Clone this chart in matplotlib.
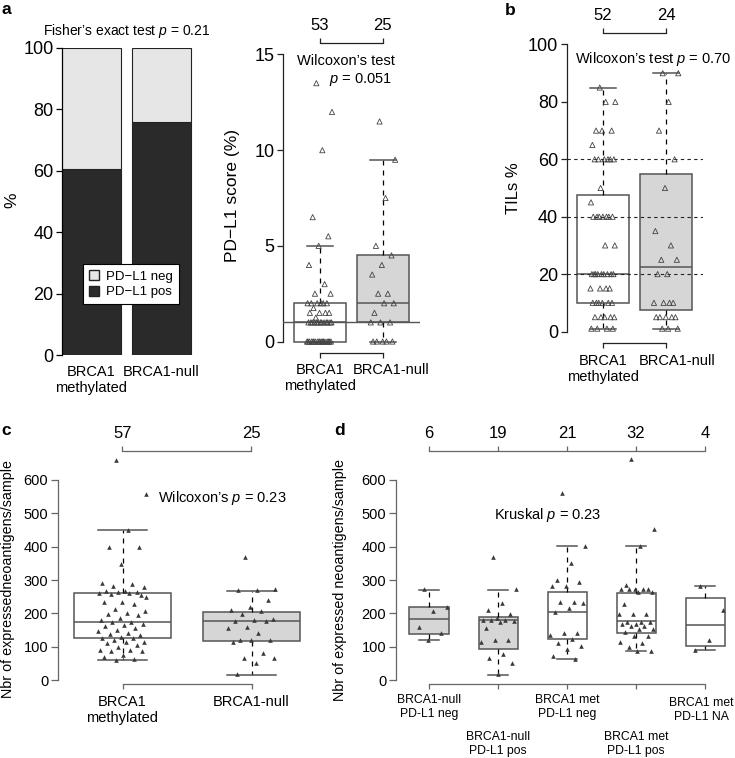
import numpy as np
import matplotlib
matplotlib.use('Agg')
import matplotlib.pyplot as plt
from matplotlib.patches import Patch
from matplotlib.transforms import blended_transform_factory

plt.rcParams['font.family'] = ['Liberation Sans', 'DejaVu Sans']
plt.rcParams['mathtext.fontset'] = 'custom'
plt.rcParams['mathtext.rm'] = 'Liberation Sans'
plt.rcParams['mathtext.it'] = 'Liberation Sans:italic'

# ---- data -------------------------------------------------------------
groups2 = ['BRCA1\nmethylated', 'BRCA1-null']

# a: PD-L1 status (%)
pdl1_pos_pct = [60.5, 76.0]
pdl1_neg_pct = [39.5, 24.0]

# a: PD-L1 score (%)
pdl1_meth = [13.5, 12, 10, 6.5, 5.5, 5, 4, 3, 2.5, 2.5, 2, 2, 2, 2, 2, 2, 1.75,
             1.5, 1.5, 1.5, 1.5, 1.25, 1, 1, 1, 1, 1, 1, 1, 1, 1, 1, 1, 1, 1,
             0, 0, 0, 0, 0, 0, 0, 0, 0, 0, 0, 0, 0, 0, 0, 0, 0, 0]
pdl1_null = [11.5, 9.5, 7.5, 5, 4.5, 4, 3.5, 2.5, 2.5, 2, 2, 1.5, 1, 1, 1,
             0, 0, 0, 0, 0]
pdl1_counts = ['53', '25']
pdl1_lo = [0, 0]
pdl1_q1 = [0, 1]
pdl1_med = [1, 2]
pdl1_q3 = [2, 4.5]
pdl1_hi = [5, 9.5]

# b: TILs %
tils_meth = [85, 80, 80, 70, 70, 70, 65, 60, 60, 60, 60, 60, 60, 50, 45,
             40, 40, 40, 40, 40, 40, 40, 30, 30, 20, 20, 20, 20, 20, 20, 20, 20, 20,
             15, 15, 15, 15, 10, 10, 10, 10, 10, 10, 5, 5, 5, 5, 5, 1, 1, 1, 1]
tils_null = [90, 90, 80, 70, 60, 50, 35, 30, 25, 25, 20, 20, 10, 10, 10, 10,
             5, 5, 5, 5, 5, 1, 1, 1]
tils_counts = ['52', '24']
tils_lo = [1, 1]
tils_q1 = [10, 7.5]
tils_med = [20, 22.5]
tils_q3 = [47.5, 55]
tils_hi = [85, 90]

# c: expressed neoantigens per sample
neo_meth = [660, 558, 450, 400, 400, 348, 290, 287, 283, 280, 268, 266, 265, 264,
            262, 260, 258, 255, 235, 233, 228, 212, 208, 202, 198, 195, 188, 180,
            176, 175, 170, 166, 162, 158, 152, 148, 142, 140, 136, 130, 128, 126,
            120, 116, 114, 112, 105, 100, 92, 90, 88, 87, 75, 70, 64, 62, 250]
neo_null = [368, 273, 270, 270, 241, 218, 211, 206, 198, 183, 181, 178, 178,
            160, 158, 143, 121, 121, 120, 115, 81, 68, 68, 53, 18]
neo_counts = ['57', '25']
neo_lo = [62, 15]
neo_q1 = [127, 117]
neo_med = [175, 177]
neo_q3 = [260, 205]
neo_hi = [450, 268]

# d: by BRCA1 / PD-L1 group
groups5 = ['BRCA1-null\nPD-L1 neg', 'BRCA1-null\nPD-L1 pos', 'BRCA1 met\nPD-L1 neg',
           'BRCA1 met\nPD-L1 pos', 'BRCA1 met\nPD-L1 NA']
d_null_neg = [273, 218, 208, 161, 141, 120]
d_null_pos = [368, 273, 231, 211, 198, 188, 181, 181, 181, 178, 175, 158, 121,
              120, 116, 78, 68, 53, 18]
d_met_neg = [561, 403, 351, 300, 293, 283, 283, 235, 235, 231, 215, 205, 141,
             141, 135, 123, 111, 103, 93, 73, 65]
d_met_pos = [663, 453, 401, 285, 273, 273, 273, 273, 273, 265, 265, 228, 198,
             198, 198, 175, 175, 175, 168, 168, 163, 163, 153, 153, 145, 133,
             133, 115, 111, 101, 88, 88]
d_met_na = [283, 211, 120, 91]
d_counts = ['6', '19', '21', '32', '4']
d_lo = [120, 17, 65, 88, 90]
d_q1 = [140, 95, 123, 143, 103]
d_med = [183, 181, 203, 177, 165]
d_q3 = [218, 191, 265, 260, 245]
d_hi = [270, 269, 401, 401, 282]

DARK = '#2a2a2a'
LIGHT = '#e6e6e6'
GREYBOX = '#d6d6d6'

# ---- helpers ----------------------------------------------------------
W, H = 735, 758
fig = plt.figure(figsize=(W / 100, H / 100), dpi=100)


def add_axes(l, t, r, b):
    return fig.add_axes([l / W, 1 - b / H, (r - l) / W, (b - t) / H])


def ftext(x, y, s, **kw):
    return fig.text(x / W, 1 - y / H, s, **kw)


def spread(n, amp):
    k = np.arange(n)
    return amp * (2 * ((k * 0.6180339887 + 0.37) % 1.0) - 1)


def boxes(ax, lo, q1, med, q3, hi, fills, width, edge):
    stats = [dict(whislo=a, q1=b, med=c, q3=d, whishi=e)
             for a, b, c, d, e in zip(lo, q1, med, q3, hi)]
    art = ax.bxp(stats, positions=range(1, len(stats) + 1), widths=width,
                 showfliers=False, patch_artist=True, manage_ticks=False,
                 boxprops=dict(edgecolor=edge, linewidth=1.1),
                 whiskerprops=dict(color='black', linestyle=(0, (4, 4)), linewidth=0.9),
                 capprops=dict(color=edge, linewidth=1.1),
                 medianprops=dict(color=edge, linewidth=1.1))
    for patch, fc in zip(art['boxes'], fills):
        patch.set_facecolor(fc)


def points(ax, series, amp, filled):
    for i, vals in enumerate(series):
        x = i + 1 + spread(len(vals), amp)
        if filled:
            ax.scatter(x, vals, marker='^', s=11, color='#3a3a3a', linewidths=0,
                       zorder=4, clip_on=False)
        else:
            ax.scatter(x, vals, marker='^', s=14, facecolors='none',
                       edgecolors='#444444', linewidths=0.6, zorder=4, clip_on=False)


def frame(ax, n, yticks, counts, col, ysize, ylen):
    for s in ['right', 'top']:
        ax.spines[s].set_visible(False)
    for s in ['left', 'bottom']:
        ax.spines[s].set_color(col)
        ax.spines[s].set_linewidth(0.9)
    ax.spines['left'].set_bounds(yticks[0], yticks[-1])
    ax.spines['bottom'].set_bounds(1, n)
    ax.set_yticks(yticks)
    ax.set_xticks(range(1, n + 1))
    ax.set_xticklabels([''] * n)
    ax.tick_params(axis='y', length=ylen, width=0.9, color=col, labelsize=ysize, pad=2)
    ax.tick_params(axis='x', length=3.5, width=0.9, color=col, pad=4)
    ax.patch.set_alpha(0)
    sec = ax.secondary_xaxis('top')
    sec.set_xticks(range(1, n + 1))
    sec.set_xticklabels(counts)
    sec.spines['top'].set_bounds(1, n)
    sec.spines['top'].set_color(col)
    sec.spines['top'].set_linewidth(0.9)
    sec.tick_params(axis='x', length=3.5, width=0.9, color=col, labelsize=12, pad=4)


def cat_labels(ax, xs, labels, tops, size):
    # category names under the bracket, x in data units, top edge in figure pixels
    tr = blended_transform_factory(ax.transData, fig.transFigure)
    for x, lab, top in zip(xs, labels, tops):
        ax.text(x, 1 - top / H, lab, transform=tr, fontsize=size, ha='center',
                va='top', linespacing=1.2)


# ---- a: stacked bars --------------------------------------------------
ax1 = add_axes(62, 48, 193, 355)
xb = np.arange(len(groups2))
ax1.bar(xb, pdl1_pos_pct, width=0.85, color=DARK, edgecolor='#222222', linewidth=0.8)
ax1.bar(xb, pdl1_neg_pct, bottom=pdl1_pos_pct, width=0.85, color=LIGHT,
        edgecolor='#222222', linewidth=0.8)
ax1.set_xlim(-0.411, 1.447)
ax1.set_ylim(0, 100)
for s in ['right', 'top', 'bottom']:
    ax1.spines[s].set_visible(False)
ax1.spines['left'].set_linewidth(0.9)
ax1.set_yticks(range(0, 101, 20))
ax1.tick_params(axis='y', length=4, width=0.9, labelsize=13, pad=2)
ax1.set_xticks(xb)
ax1.set_xticklabels(groups2, fontsize=10.5)
ax1.tick_params(axis='x', length=0, pad=7)
leg = ax1.legend(handles=[Patch(facecolor=LIGHT, edgecolor='#222222', label='PD\u2212L1 neg'),
                          Patch(facecolor=DARK, edgecolor='#222222', label='PD\u2212L1 pos')],
                 loc='upper left', bbox_to_anchor=(83 / W, 1 - 264 / H),
                 bbox_transform=fig.transFigure, fancybox=False, framealpha=1,
                 edgecolor='black', fontsize=9.5, handlelength=0.8, handleheight=0.8,
                 handletextpad=0.5, borderpad=0.45, labelspacing=0.25, borderaxespad=0)
leg.get_frame().set_linewidth(0.8)
ftext(127, 35, 'Fisher\u2019s exact test $p$ = 0.21', fontsize=10, ha='center', va='baseline')
ftext(12, 200, '%', fontsize=12.5, rotation=90, ha='center', va='center')

# ---- a: PD-L1 score boxplot -------------------------------------------
ax2 = add_axes(283, 43, 419.5, 353)
boxes(ax2, pdl1_lo, pdl1_q1, pdl1_med, pdl1_q3, pdl1_hi, ['white', GREYBOX], 0.82, '#555555')
ax2.axhline(1, color='#555555', linewidth=1, zorder=3)
points(ax2, [pdl1_meth, pdl1_null], 0.2, False)
ax2.set_xlim(0.42, 2.58)
ax2.set_ylim(-0.6, 15.6)
frame(ax2, 2, [0, 5, 10, 15], pdl1_counts, '#222222', 13, 4)
cat_labels(ax2, [1, 2.13], groups2, [363, 363], 10.5)
ftext(297, 65, 'Wilcoxon\u2019s test', fontsize=10.5, ha='left', va='baseline')
ftext(392, 83, '$p$ = 0.051', fontsize=10.5, ha='right', va='baseline')
ftext(233, 195, 'PD\u2212L1 score (%)', fontsize=12.5, rotation=90, ha='center', va='center')

# ---- b: TILs ----------------------------------------------------------
ax3 = add_axes(566.5, 33, 702.5, 343)
boxes(ax3, tils_lo, tils_q1, tils_med, tils_q3, tils_hi, ['white', GREYBOX], 0.82, '#555555')
for yv in [20, 40, 60]:
    ax3.axhline(yv, color='#222222', linewidth=0.8, linestyle=(0, (3, 3)), zorder=3)
points(ax3, [tils_meth, tils_null], 0.2, False)
ax3.set_xlim(0.42, 2.58)
ax3.set_ylim(-4, 104)
frame(ax3, 2, [0, 20, 40, 60, 80, 100], tils_counts, '#222222', 13, 4)
cat_labels(ax3, [1, 2.18], groups2, [354, 354], 10.5)
ftext(653, 63, 'Wilcoxon\u2019s test $p$ = 0.70', fontsize=10.5, ha='center', va='baseline')
ftext(513, 188, 'TILs %', fontsize=12, rotation=90, ha='center', va='center')

# ---- c: neoantigens ---------------------------------------------------
ax4 = add_axes(58, 451, 316, 684)
boxes(ax4, neo_lo, neo_q1, neo_med, neo_q3, neo_hi, ['white', GREYBOX], 0.75, '#555555')
points(ax4, [neo_meth, neo_null], 0.19, True)
ax4.set_xlim(0.5, 2.5)
ax4.set_ylim(-10.8, 685.8)
frame(ax4, 2, [0, 100, 200, 300, 400, 500, 600], neo_counts, '#666666', 10.5, 5)
cat_labels(ax4, [1, 2], groups2, [695, 695], 10.5)
ftext(222, 502, 'Wilcoxon\u2019s $p$ = 0.23', fontsize=10.5, ha='center', va='baseline')
ftext(8, 579, 'Nbr of expressedneoantigens/sample', fontsize=10.3, rotation=90,
      ha='center', va='center')

# ---- d: neoantigens by group ------------------------------------------
ax5 = add_axes(396, 451, 730, 684)
boxes(ax5, d_lo, d_q1, d_med, d_q3, d_hi,
      [GREYBOX, GREYBOX, 'white', 'white', 'white'], 0.565, '#555555')
points(ax5, [d_null_neg, d_null_pos, d_met_neg, d_met_pos, d_met_na], 0.26, True)
ax5.set_xlim(0.522, 5.36)
ax5.set_ylim(-10.8, 685.8)
frame(ax5, 5, [0, 100, 200, 300, 400, 500, 600], d_counts, '#666666', 10.5, 5)
cat_labels(ax5, [1, 2, 3, 4, 4.95], groups5, [694, 731, 694, 731, 697], 8.8)
ftext(548, 519, 'Kruskal $p$ = 0.23', fontsize=10.5, ha='center', va='baseline')
ftext(340, 580, 'Nbr of expressed neoantigens/sample', fontsize=10.3, rotation=90,
      ha='center', va='center')

# ---- panel letters ----------------------------------------------------
for lx, ly, letter in [(2, 14, 'a'), (505, 15, 'b'), (1, 435, 'c'), (334, 435, 'd')]:
    ftext(lx, ly, letter, fontsize=12.5, fontweight='bold', ha='left', va='baseline')

fig.savefig('out.png', dpi=100)
